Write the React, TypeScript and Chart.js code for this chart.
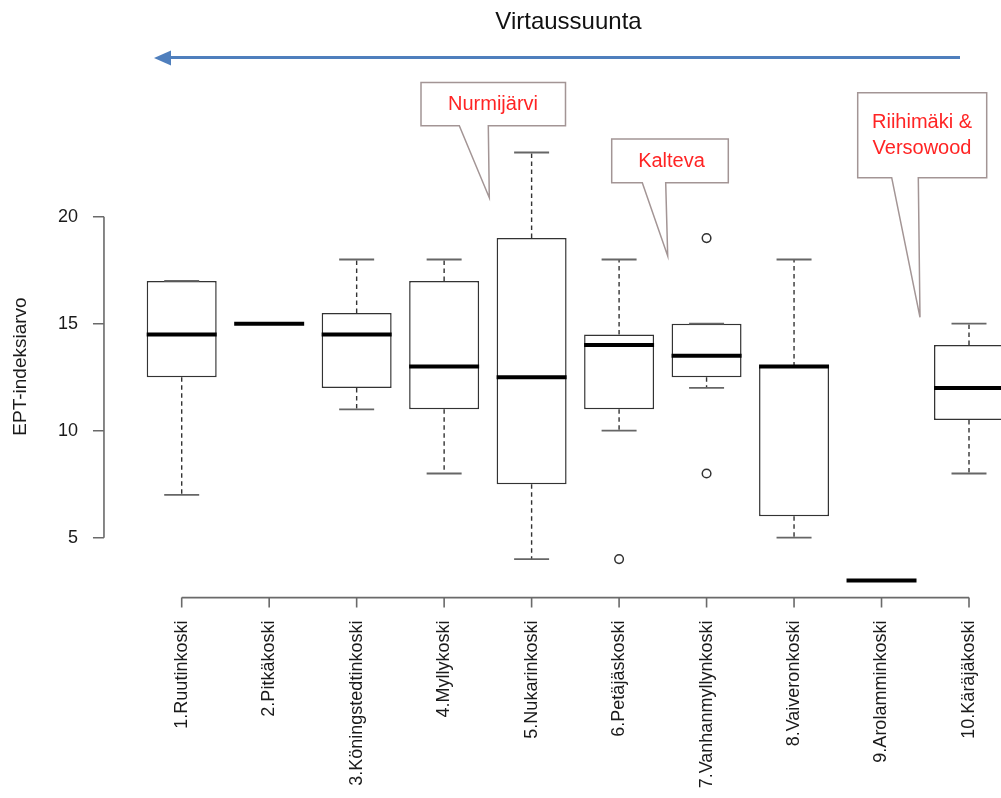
import React, { useEffect, useRef } from "react";
import { Chart, registerables } from "chart.js";

Chart.register(...registerables);

// ---------- data ----------
const categories = [
  "1.Ruutinkoski",
  "2.Pitkäkoski",
  "3.Köningstedtinkoski",
  "4.Myllykoski",
  "5.Nukarinkoski",
  "6.Petäjäskoski",
  "7.Vanhanmyllynkoski",
  "8.Vaiveronkoski",
  "9.Arolamminkoski",
  "10.Käräjäkoski",
];
const whiskerLow = [7, 15, 11, 8, 4, 10, 12, 5, 3, 8];
const quartile1 = [12.5, 15, 12, 11, 7.5, 11, 12.5, 6, 3, 10.5];
const medians = [14.5, 15, 14.5, 13, 12.5, 14, 13.5, 13, 3, 12];
const quartile3 = [17, 15, 15.5, 17, 19, 14.5, 15, 13, 3, 14];
const whiskerHigh = [17, 15, 18, 18, 23, 18, 15, 18, 3, 15];
const outlierCategories = ["6.Petäjäskoski", "7.Vanhanmyllynkoski", "7.Vanhanmyllynkoski"];
const outlierValues = [4, 19, 8];
const yTickValues = [5, 10, 15, 20];
const yAxisTitle = "EPT-indeksiarvo";
const topTitle = "Virtaussuunta";
const calloutTexts = [["Nurmijärvi"], ["Kalteva"], ["Riihimäki &", "Versowood"]];

const FONT = '"Liberation Sans", Arial, Helvetica, sans-serif';

// ---------- plugins ----------
const boxPartsPlugin = {
  id: "boxParts",
  afterDatasetsDraw(chart: any) {
    const meta = chart.getDatasetMeta(0);
    const y = chart.scales.y;
    const ctx = chart.ctx as CanvasRenderingContext2D;
    ctx.save();
    meta.data.forEach((bar: any, i: number) => {
      const cx = bar.x;
      const w = bar.width;
      const pLow = y.getPixelForValue(whiskerLow[i]);
      const pQ1 = y.getPixelForValue(quartile1[i]);
      const pMed = y.getPixelForValue(medians[i]);
      const pQ3 = y.getPixelForValue(quartile3[i]);
      const pHigh = y.getPixelForValue(whiskerHigh[i]);
      // dashed whiskers
      ctx.setLineDash([4.5, 3.5]);
      ctx.strokeStyle = "#333";
      ctx.lineWidth = 1.4;
      if (whiskerHigh[i] > quartile3[i]) {
        ctx.beginPath();
        ctx.moveTo(cx, pQ3);
        ctx.lineTo(cx, pHigh);
        ctx.stroke();
      }
      if (whiskerLow[i] < quartile1[i]) {
        ctx.beginPath();
        ctx.moveTo(cx, pQ1);
        ctx.lineTo(cx, pLow);
        ctx.stroke();
      }
      ctx.setLineDash([]);
      // caps
      ctx.strokeStyle = "#666";
      ctx.lineWidth = 1.8;
      [pHigh, pLow].forEach((p) => {
        ctx.beginPath();
        ctx.moveTo(cx - w / 4, p);
        ctx.lineTo(cx + w / 4, p);
        ctx.stroke();
      });
      // median
      ctx.strokeStyle = "#000";
      ctx.lineWidth = 4;
      ctx.beginPath();
      ctx.moveTo(cx - w / 2, pMed);
      ctx.lineTo(cx + w / 2, pMed);
      ctx.stroke();
    });
    ctx.restore();
  },
};

const rAxesPlugin = {
  id: "rAxes",
  afterDraw(chart: any) {
    const { ctx, scales } = chart;
    const x = scales.x;
    const y = scales.y;
    const axisX = x.getPixelForValue(-0.9) + 1;
    const axisY = chart.chartArea.bottom;
    ctx.save();
    ctx.strokeStyle = "#6a6a6a";
    ctx.lineWidth = 1.6;
    // y axis
    ctx.beginPath();
    ctx.moveTo(axisX, y.getPixelForValue(yTickValues[0]));
    ctx.lineTo(axisX, y.getPixelForValue(yTickValues[yTickValues.length - 1]));
    yTickValues.forEach((v) => {
      const p = y.getPixelForValue(v);
      ctx.moveTo(axisX, p);
      ctx.lineTo(axisX - 11, p);
    });
    ctx.stroke();
    // x axis
    ctx.beginPath();
    ctx.moveTo(x.getPixelForValue(0), axisY);
    ctx.lineTo(x.getPixelForValue(categories.length - 1), axisY);
    categories.forEach((_c, i) => {
      const p = x.getPixelForValue(i);
      ctx.moveTo(p, axisY);
      ctx.lineTo(p, axisY + 10);
    });
    ctx.stroke();
    ctx.restore();
  },
};

type Callout = { pts: number[][]; cx: number; lines: number[] };
const callouts: Callout[] = [
  {
    pts: [[421, 82.5], [565.5, 82.5], [565.5, 125.7], [488.3, 125.7], [489.3, 197.7], [459.3, 125.7], [421, 125.7]],
    cx: 493,
    lines: [104],
  },
  {
    pts: [[611.7, 139], [728.3, 139], [728.3, 182.7], [665.7, 182.7], [667.7, 256], [642.3, 182.7], [611.7, 182.7]],
    cx: 671.5,
    lines: [161],
  },
  {
    pts: [[857.7, 92.7], [986.7, 92.7], [986.7, 177.7], [918.3, 177.7], [920, 317.3], [891.7, 177.7], [857.7, 177.7]],
    cx: 922,
    lines: [122, 148.5],
  },
];

const annotationsPlugin = {
  id: "annotations",
  afterDraw(chart: any) {
    const ctx = chart.ctx as CanvasRenderingContext2D;
    ctx.save();
    // title
    ctx.fillStyle = "#111";
    ctx.font = `24px ${FONT}`;
    ctx.textAlign = "center";
    ctx.textBaseline = "alphabetic";
    ctx.fillText(topTitle, 568.5, 28.5);
    // arrow
    ctx.strokeStyle = "#4f7fbd";
    ctx.fillStyle = "#4f7fbd";
    ctx.lineWidth = 3;
    ctx.beginPath();
    ctx.moveTo(960, 57.5);
    ctx.lineTo(166, 57.5);
    ctx.stroke();
    ctx.beginPath();
    ctx.moveTo(154, 58);
    ctx.lineTo(171, 50.5);
    ctx.lineTo(171, 65.5);
    ctx.closePath();
    ctx.fill();
    // callouts
    callouts.forEach((c, k) => {
      ctx.beginPath();
      c.pts.forEach((p, i) => (i === 0 ? ctx.moveTo(p[0], p[1]) : ctx.lineTo(p[0], p[1])));
      ctx.closePath();
      ctx.fillStyle = "#fff";
      ctx.fill();
      ctx.strokeStyle = "#a39595";
      ctx.lineWidth = 1.5;
      ctx.stroke();
      ctx.fillStyle = "#ff2424";
      ctx.font = `20px ${FONT}`;
      ctx.textAlign = "center";
      ctx.textBaseline = "middle";
      calloutTexts[k].forEach((t, j) => ctx.fillText(t, c.cx, c.lines[j]));
    });
    ctx.restore();
  },
};

export default function App() {
  const ref = useRef<HTMLCanvasElement | null>(null);

  useEffect(() => {
    if (!ref.current) return;
    const chart = new Chart(ref.current, {
      type: "bar",
      data: {
        labels: categories,
        datasets: [
          {
            type: "bar",
            data: categories.map((_c, i) => [quartile1[i], quartile3[i]]) as any,
            backgroundColor: "#ffffff",
            borderColor: "#333333",
            borderWidth: 1.5,
            borderSkipped: false,
            barPercentage: 0.8,
            categoryPercentage: 1.0,
          } as any,
          {
            type: "line",
            data: outlierCategories.map((c, i) => ({ x: c, y: outlierValues[i] })) as any,
            showLine: false,
            pointRadius: 4.3,
            pointBorderWidth: 1.5,
            pointBorderColor: "#333333",
            pointBackgroundColor: "rgba(255,255,255,0)",
            pointStyle: "circle",
          } as any,
        ],
      },
      options: {
        responsive: false,
        animation: false,
        events: [],
        layout: { padding: { left: 0, right: 37.26, top: 135.4, bottom: 0 } },
        plugins: { legend: { display: false }, tooltip: { enabled: false } },
        scales: {
          x: {
            type: "category",
            offset: true,
            grid: { display: false, drawTicks: false },
            border: { display: false },
            ticks: {
              minRotation: 90,
              maxRotation: 90,
              autoSkip: false,
              padding: 23,
              color: "#1a1a1a",
              font: { family: FONT, size: 18 },
            },
            afterFit: (s: any) => {
              s.height = 200.4;
            },
          },
          y: {
            type: "linear",
            min: 2.2,
            max: 23.8,
            grid: { display: false, drawTicks: false },
            border: { display: false },
            afterBuildTicks: (s: any) => {
              s.ticks = yTickValues.map((v) => ({ value: v }));
            },
            ticks: {
              padding: 60,
              color: "#1a1a1a",
              font: { family: FONT, size: 18 },
            },
            title: {
              display: true,
              text: yAxisTitle,
              color: "#1a1a1a",
              font: { family: FONT, size: 19 },
              padding: { top: 9.5, bottom: 0 },
            },
            afterFit: (s: any) => {
              s.width = 137.96;
            },
          },
        },
      } as any,
      plugins: [boxPartsPlugin, rAxesPlugin, annotationsPlugin],
    });
    return () => chart.destroy();
  }, []);

  return (
    <div
      style={{
        position: "absolute",
        left: 0,
        top: 0,
        width: 1001,
        height: 798,
        overflow: "hidden",
        background: "#fff",
      }}
    >
      <canvas ref={ref} width={1050} height={798} style={{ display: "block" }} />
    </div>
  );
}
